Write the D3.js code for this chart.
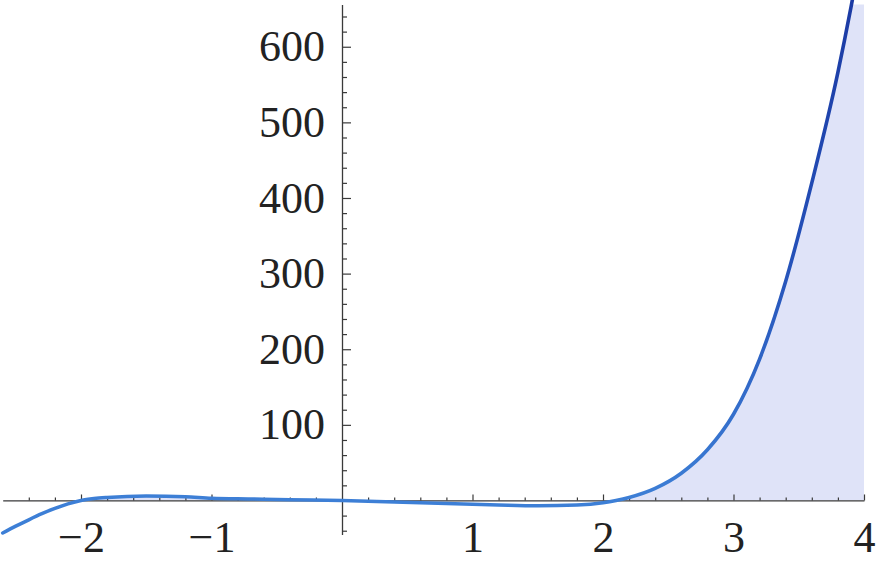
<!DOCTYPE html>
<html>
<head>
<meta charset="utf-8">
<script src="https://cdn.jsdelivr.net/npm/d3@7"></script>
<style>
  html, body { margin: 0; padding: 0; background: #fff; }
  svg { display: block; }
</style>
</head>
<body>
<svg id="chart" width="880" height="568"></svg>
<script>
// ---- data ----
const xs = [-2.6, -2.5, -2.4, -2.3, -2.2, -2.1, -2.0, -1.9, -1.8, -1.5, -1.2, -1.0, -0.7, -0.4, 0,
            0.4, 0.8, 1.2, 1.5, 1.8, 2.0, 2.1, 2.2, 2.4, 2.6, 2.8, 3.0, 3.2, 3.4, 3.6, 3.8, 3.85, 3.9, 3.95, 4.0];
const ys = [-43, -34, -25.5, -17.5, -10.5, -4.5, 0, 2.5, 4, 6, 5, 3, 2, 1, 0,
            -2, -4, -6, -7, -6, -3, 0, 4, 16, 36, 67, 114, 187, 290, 420, 566, 608, 652, 698, 745];
const xMajorTicks = [-2, -1, 1, 2, 3, 4];
const xMinorTicks = [-2.4, -2.2, -1.8, -1.6, -1.4, -1.2, -0.8, -0.6, -0.4, -0.2, 0.2, 0.4, 0.6, 0.8,
                     1.2, 1.4, 1.6, 1.8, 2.2, 2.4, 2.6, 2.8, 3.2, 3.4, 3.6, 3.8];
const yMajorTicks = [100, 200, 300, 400, 500, 600];
const yMinorTicks = [-40, -20, 20, 40, 60, 80, 120, 140, 160, 180, 220, 240, 260, 280, 320, 340, 360, 380,
                     420, 440, 460, 480, 520, 540, 560, 580, 620, 640];

const data = xs.map((x, i) => ({ x: x, y: ys[i] }));

const svg = d3.select("#chart");
const x = d3.scaleLinear().domain([-2.6, 4]).range([2.7, 864]);
const y = d3.scaleLinear().domain([-45, 656]).range([534.5, 4.4]);

const defs = svg.append("defs");
// fill only above the axis, inside the plot range
defs.append("clipPath").attr("id", "plotclip")
  .append("rect")
  .attr("x", x(-2.6)).attr("y", y(656))
  .attr("width", x(4) - x(-2.6)).attr("height", y(0) - y(656));

const grad = defs.append("linearGradient").attr("id", "lineGrad")
  .attr("gradientUnits", "userSpaceOnUse")
  .attr("x1", 0).attr("x2", 0).attr("y1", y(0)).attr("y2", 0);
grad.append("stop").attr("offset", "0%").attr("stop-color", "#3d7fd6");
grad.append("stop").attr("offset", "50%").attr("stop-color", "#2450b8");
grad.append("stop").attr("offset", "100%").attr("stop-color", "#1b3aa4");

// fill to axis
const area = d3.area().x(d => x(d.x)).y0(y(0)).y1(d => y(d.y)).curve(d3.curveMonotoneX);
svg.append("path").datum(data)
  .attr("clip-path", "url(#plotclip)")
  .attr("d", area)
  .attr("fill", "#dfe3f8");

// axes
const fontFamily = "'Liberation Serif', 'DejaVu Serif', serif";
const axisColor = "#3a3a3a";

const gx = svg.append("g").attr("transform", `translate(0,${y(0)})`)
  .call(d3.axisBottom(x).tickValues(xMajorTicks).tickSizeInner(-6).tickSizeOuter(0).tickPadding(20)
        .tickFormat(d => d < 0 ? "\u2212" + Math.abs(d) : String(d)));
gx.append("g").call(d3.axisBottom(x).tickValues(xMinorTicks).tickSizeInner(-3).tickSizeOuter(0).tickFormat(""))
  .select(".domain").remove();

const gy = svg.append("g").attr("transform", `translate(${x(0)},0)`)
  .call(d3.axisLeft(y).tickValues(yMajorTicks).tickSizeInner(-9).tickSizeOuter(0).tickPadding(17)
        .tickFormat(d => String(d)));
gy.append("g").call(d3.axisLeft(y).tickValues(yMinorTicks).tickSizeInner(-5).tickSizeOuter(0).tickFormat(""))
  .select(".domain").remove();

[gx, gy].forEach(g => {
  g.selectAll(".domain").attr("stroke", axisColor).attr("stroke-width", 1.3);
  g.selectAll(".tick line").attr("stroke", axisColor).attr("stroke-width", 1.2);
  g.selectAll(".tick text").attr("fill", "#222").style("font-family", fontFamily).style("font-size", "44px");
});

// curve
const line = d3.line().x(d => x(d.x)).y(d => y(d.y)).curve(d3.curveMonotoneX);
svg.append("path").datum(data)
  .attr("d", line)
  .attr("fill", "none")
  .attr("stroke", "url(#lineGrad)")
  .attr("stroke-width", 3.6)
  .attr("stroke-linecap", "round");
</script>
</body>
</html>
